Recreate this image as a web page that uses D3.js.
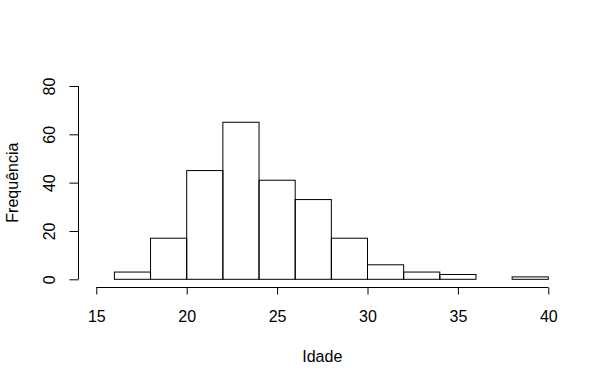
<!DOCTYPE html>
<html>
<head>
<meta charset="utf-8">
<script src="https://cdn.jsdelivr.net/npm/d3@7/dist/d3.min.js"></script>
<style>
body{margin:0;background:#fff;}
text{font-family:"Liberation Sans",Arial,sans-serif;font-size:16px;fill:#000;}
</style>
</head>
<body>
<script>
// histogram of Idade, bins of width 2
var binStart = [16,18,20,22,24,26,28,30,32,34,36,38];
var binWidth = 2;
var counts = [3,17,45,65,41,33,17,6,3,2,0,1];
var xTicks = [15,20,25,30,35,40];
var yTicks = [0,20,40,60,80];

var W = 607, H = 385;
var svg = d3.select("body").append("svg")
	.attr("width",W)
	.attr("height",H);

var x = d3.scaleLinear().domain([15,40]).range([96.3,548.3]);
var y = d3.scaleLinear().domain([0,80]).range([279.3,86]);

//bars
svg.append("g").selectAll("rect").data(counts)
	.enter().append("rect")
		.attr("x",function(d,i){ return x(binStart[i]); })
		.attr("y",function(d){ return y(d); })
		.attr("width",function(d,i){ return x(binStart[i]+binWidth)-x(binStart[i]); })
		.attr("height",function(d){ return y(0)-y(d); })
		.attr("fill","none")
		.attr("stroke","#000")
		.attr("stroke-width",1);

//x axis
var xAxis = svg.append("g")
	.attr("transform","translate(0,287.5)")
	.call(d3.axisBottom(x).tickValues(xTicks).tickSize(7).tickPadding(9).tickFormat(d3.format("d")));
//y axis
var yAxis = svg.append("g")
	.attr("transform","translate(78.5,0)")
	.call(d3.axisLeft(y).tickValues(yTicks).tickSize(9).tickPadding(0).tickFormat(d3.format("d")));

[xAxis,yAxis].forEach(function(a){
	a.attr("font-family",null).attr("font-size",null);
	a.selectAll("line,path").attr("stroke","#000");
});
xAxis.select(".domain").attr("d","M"+x(15)+",0H"+x(40));
xAxis.selectAll("text").attr("dy",null).attr("y",null).attr("transform","translate(0,34)");
yAxis.select(".domain").attr("d","M0,"+y(0)+"V"+y(80));
yAxis.selectAll("text")
	.attr("x",null).attr("dy",null)
	.attr("text-anchor","middle")
	.attr("transform","translate(-23.5,0) rotate(-90)");

//labels
svg.append("text")
	.attr("x",(x(15)+x(40))/2)
	.attr("y",361.5)
	.attr("text-anchor","middle")
	.text("Idade");
svg.append("text")
	.attr("transform","translate(17.5,"+((y(0)+y(80))/2)+") rotate(-90)")
	.attr("text-anchor","middle")
	.text("Frequência");
</script>
</body>
</html>
